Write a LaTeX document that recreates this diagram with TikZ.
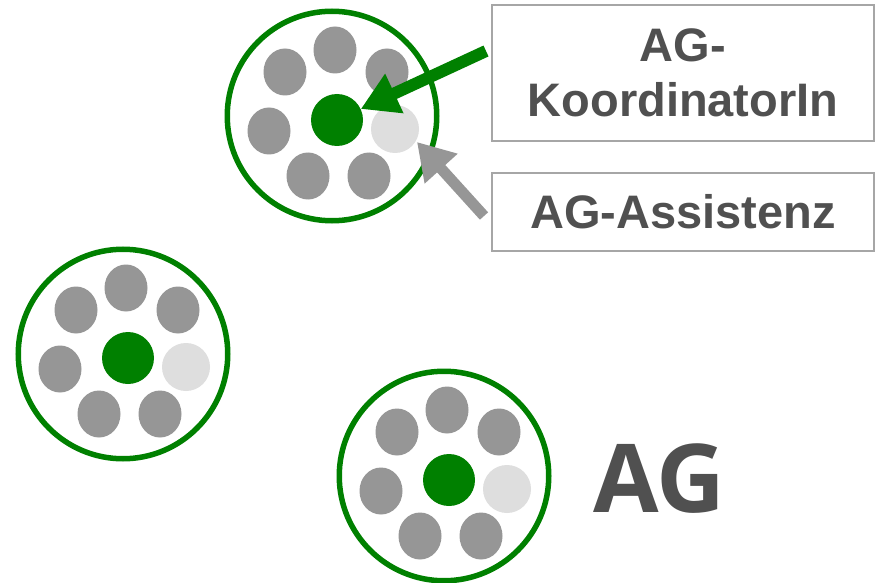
\documentclass[tikz,border=0pt]{standalone}
\usepackage{fontspec}
\setmainfont{Liberation Sans}
\newfontfamily\bigagfont{Open Sans}
\usetikzlibrary{shapes.geometric,arrows.meta}
\definecolor{aggreen}{HTML}{008000}
\definecolor{memgray}{HTML}{969696}
\definecolor{asgray}{HTML}{DEDEDE}
\definecolor{txtgray}{HTML}{505050}
\definecolor{boxgray}{HTML}{A6A6A6}
\tikzset{
  outer/.style={circle,draw=aggreen,line width=5.5pt,fill=white,minimum size=209.5pt,inner sep=0pt},
  core/.style={circle,fill=aggreen,minimum size=52pt,inner sep=0pt},
  mem/.style={ellipse,fill=memgray,minimum width=43pt,minimum height=47pt,inner sep=0pt},
  assist/.style={circle,fill=asgray,minimum size=48pt,inner sep=0pt},
  labelbox/.style={rectangle,draw=boxgray,line width=2pt,fill=white,text=txtgray,
    font=\fontsize{47}{55}\selectfont\bfseries,align=center,inner sep=0pt,minimum width=382pt},
  greenarrow/.style={draw=aggreen,line width=12pt,-{Triangle[width=41pt,length=37pt]}},
  grayarrow/.style={draw=memgray,line width=11pt,-{Triangle[width=42pt,length=36pt]}}
}
\newcommand{\agcluster}[3]{%
  \node[outer] (#1c) at (#2-5,#3-4) {};
  \node[core] (#1g) at (#2,#3) {};
  \node[mem] (#1m1) at (#2-2,#3-70) {};
  \node[mem] (#1m2) at (#2-52,#3-48) {};
  \node[mem] (#1m3) at (#2+50,#3-48) {};
  \node[mem] (#1m4) at (#2-68,#3+11) {};
  \node[mem] (#1m5) at (#2-29,#3+56) {};
  \node[mem] (#1m6) at (#2+32,#3+56) {};
  \node[assist] (#1a) at (#2+58,#3+9) {};
}
\begin{document}
\begin{tikzpicture}[x=1pt,y=-1pt]
\useasboundingbox (0,0) rectangle (881,583);
\fill[white] (0,0) rectangle (881,583);
\agcluster{t}{337}{120}
\agcluster{l}{128}{358}
\agcluster{b}{449}{480}
\node[labelbox,minimum height=136pt] (koord) at (683,73) {AG-\\KoordinatorIn};
\node[labelbox,minimum height=78pt] (assi) at (683,212) {AG-Assistenz};
\node[anchor=base west,text=txtgray,font=\bigagfont\fontsize{95}{95}\selectfont\bfseries,inner sep=0pt] (ag) at (593,512) {AG};
\coordinate (ks) at (486,51);
\coordinate (as) at (484,216);
\coordinate (at) at (417,142);
\draw[greenarrow] (ks) -- (tg);
\draw[grayarrow] (as) -- (at);
\end{tikzpicture}
\end{document}
